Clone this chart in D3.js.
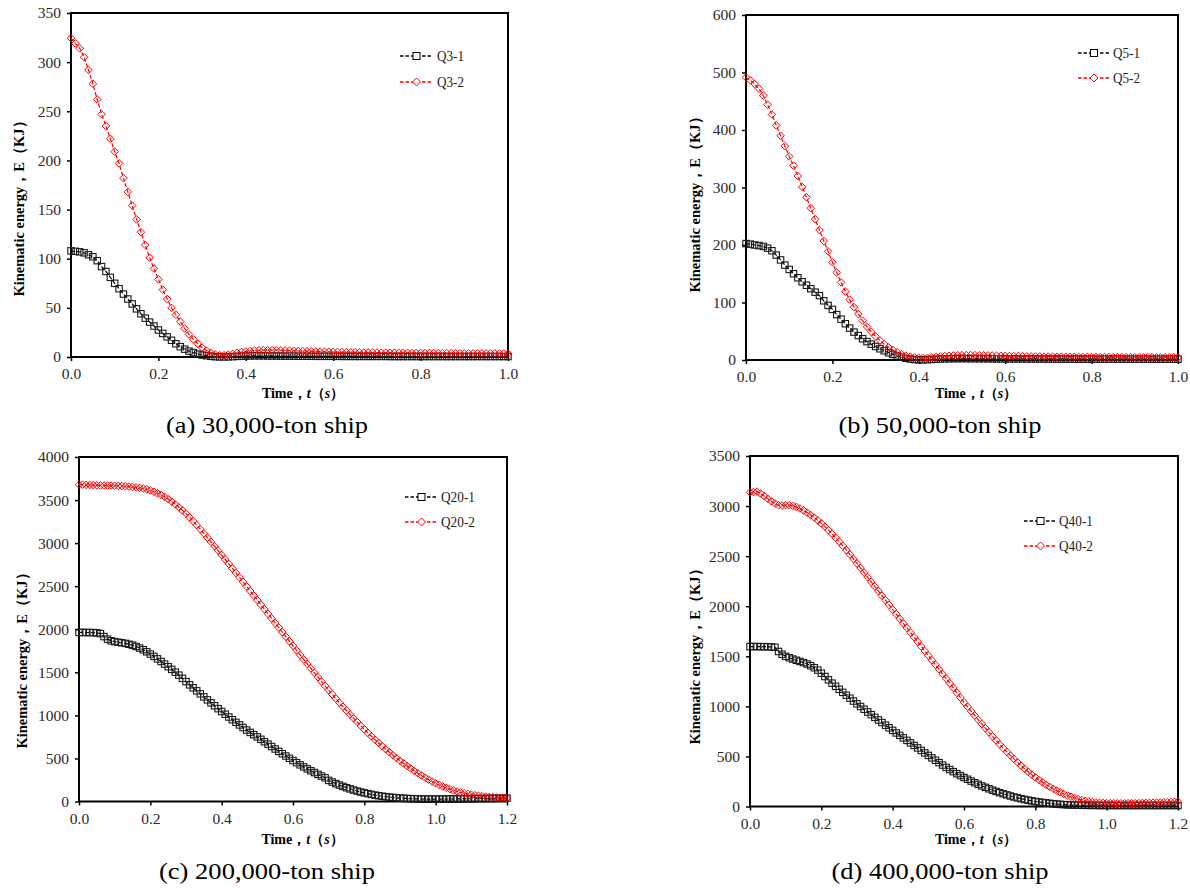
<!DOCTYPE html>
<html><head><meta charset="utf-8">
<script src="https://cdn.jsdelivr.net/npm/d3@7"></script>
<style>body{margin:0;background:#fff}svg{display:block}</style>
</head><body>
<svg id="chart" width="1190" height="888"></svg>
<script>
// ---------- DATA ----------
const timeGrid = [
0,0.01,0.02,0.03,0.04,0.05,0.06,0.07,0.08,0.09,
0.1,0.11,0.12,0.13,0.14,0.15,0.16,0.17,0.18,0.19,
0.2,0.21,0.22,0.23,0.24,0.25,0.26,0.27,0.28,0.29,
0.3,0.31,0.32,0.33,0.34,0.35,0.36,0.37,0.38,0.39,
0.4,0.41,0.42,0.43,0.44,0.45,0.46,0.47,0.48,0.49,
0.5,0.51,0.52,0.53,0.54,0.55,0.56,0.57,0.58,0.59,
0.6,0.61,0.62,0.63,0.64,0.65,0.66,0.67,0.68,0.69,
0.7,0.71,0.72,0.73,0.74,0.75,0.76,0.77,0.78,0.79,
0.8,0.81,0.82,0.83,0.84,0.85,0.86,0.87,0.88,0.89,
0.9,0.91,0.92,0.93,0.94,0.95,0.96,0.97,0.98,0.99,
1.0,1.01,1.02,1.03,1.04,1.05,1.06,1.07,1.08,1.09,
1.1,1.11,1.12,1.13,1.14,1.15,1.16,1.17,1.18,1.19,
1.2];

// (a) 30,000-ton ship
const q3_1 = [
108,107.5,107,106,104,102,98,92,87,81,
75,69.5,64,59,54,49,44,39.5,35.5,31.5,
27.5,24,20.5,17,13.5,10.5,8,6,4.5,3,
2,1.3,0.7,0.3,0.1,0.1,0.2,0.4,0.6,0.8,
1.0,1.1,1.2,1.2,1.2,1.1,1.1,1.0,1.0,0.9,
0.9,0.9,0.8,0.8,0.8,0.8,0.7,0.7,0.7,0.7,
0.7,0.7,0.6,0.6,0.6,0.6,0.6,0.6,0.6,0.6,
0.6,0.6,0.6,0.5,0.5,0.5,0.5,0.5,0.5,0.5,
0.5,0.5,0.5,0.5,0.5,0.5,0.5,0.5,0.5,0.5,
0.5,0.5,0.5,0.5,0.5,0.5,0.5,0.5,0.5,0.5,
0.5];
const q3_2 = [
324.5,319,314,305,292,278,262,247,235,222,
209,197,182,168,154,140,127,114,101,90,
79,68.5,59,50,43,36,29,23,18,13.5,
9.5,6.5,4.2,2.6,1.8,1.8,2.4,3.2,4.2,5.0,
5.6,6.1,6.5,6.8,7.0,7.0,7.0,6.9,6.8,6.6,
6.5,6.3,6.2,6.0,5.9,5.8,5.6,5.5,5.4,5.3,
5.2,5.1,5.0,4.9,4.8,4.8,4.7,4.6,4.6,4.5,
4.5,4.4,4.4,4.3,4.3,4.2,4.2,4.2,4.1,4.1,
4.1,4.0,4.0,3.9,3.9,3.9,3.9,3.8,3.8,3.8,
3.8,3.7,3.7,3.7,3.7,3.6,3.6,3.6,3.6,3.5,
3.5];

// (b) 50,000-ton ship
const q5_1 = [
202.5,201.5,200,199,197.5,194.5,190,182.5,174,165,
157.5,150,143,136,130,124,118,112,103,95,
88,79,71,63,55.5,48.5,42.5,37,32,27.5,
23.5,19.5,16,12.7,9.8,7,4.8,3,1.7,0.8,
0.3,0.3,0.6,1.0,1.4,1.7,2.0,2.2,2.3,2.4,
2.4,2.4,2.3,2.3,2.2,2.2,2.1,2.1,2.0,2.0,
2.0,1.9,1.9,1.9,1.8,1.8,1.8,1.8,1.7,1.7,
1.7,1.7,1.7,1.6,1.6,1.6,1.6,1.6,1.6,1.6,
1.5,1.5,1.5,1.5,1.5,1.5,1.5,1.5,1.5,1.5,
1.5,1.5,1.5,1.5,1.5,1.5,1.5,1.5,1.5,1.5,
1.5];
const q5_2 = [
491.5,486.5,480,472,460,444,427,408,390,372,
354,338,320,301,283,264,245,226,207,189,
170,152,135,119,105,92,80,68.5,58,49,
41,34,27.5,22,17.5,13.5,10.3,7.8,5.8,4.4,
3.6,3.4,3.8,4.5,5.3,6.1,6.8,7.4,7.9,8.2,
8.4,8.5,8.5,8.4,8.3,8.2,8.0,7.8,7.6,7.4,
7.2,7.0,6.8,6.7,6.5,6.4,6.2,6.1,6.0,5.9,
5.8,5.7,5.6,5.6,5.5,5.5,5.4,5.4,5.3,5.3,
5.2,5.2,5.2,5.1,5.1,5.1,5.0,5.0,5.0,5.0,
4.9,4.9,4.9,4.9,4.8,4.8,4.8,4.8,4.8,4.7,
4.7];

// (c) 200,000-ton ship
const q20_1 = [
1963,1963,1962,1962,1961,1958,1950,1915,1885,1866,
1856,1849,1843,1836,1826,1815,1800,1782,1762,1738,
1712,1685,1656,1626,1596,1565,1534,1502,1467,1430,
1392,1355,1320,1285,1250,1215,1180,1146,1112,1078,
1045,1013,981,950,919,889,859,830,802,776,
750,722,694,666,638,610,582,555,528,502,
476,451,426,402,379,357,336,315,295,275,
245,226,208,191,175,160,146,133,121,110,
100,91,82,74,67,61,56,51,47,43,
40,37,35,33,31,30,29,28,28,28,
28,28,28,29,29,30,30,31,31,32,
32,33,34,34,35,36,36,37,38,39,
39];
const q20_2 = [
3680,3679,3677,3675,3673,3671,3670,3669,3668,3667,
3666,3665,3663,3660,3657,3653,3648,3642,3634,3624,
3612,3597,3580,3560,3537,3511,3482,3450,3416,3380,
3343,3300,3255,3209,3162,3114,3065,3015,2964,2913,
2862,2810,2758,2706,2654,2602,2550,2497,2444,2391,
2338,2285,2232,2179,2126,2073,2020,1967,1914,1861,
1808,1755,1702,1650,1598,1546,1494,1443,1392,1342,
1292,1243,1195,1148,1101,1055,1010,966,923,880,
838,797,757,718,680,643,607,572,538,505,
473,442,412,383,355,328,302,277,254,232,
211,192,174,158,143,129,117,106,96,88,
80,73,67,62,57,53,50,47,44,42,
40];

// (d) 400,000-ton ship
const q40_1 = [
1597,1597,1597,1596,1596,1595,1594,1590,1548,1520,
1500,1485,1472,1460,1449,1437,1423,1406,1386,1362,
1331,1298,1265,1232,1200,1170,1140,1111,1082,1053,
1025,998,971,944,917,890,864,838,812,786,
760,735,710,685,660,635,610,585,560,535,
510,486,462,438,414,390,369,348,328,309,
290,272,254,237,221,205,191,177,163,150,
138,127,116,105,95,86,78,70,63,56,
50,45,40,36,32,27,24,21,19,17,
15,14,13,12,12,11,11,11,10,10,
10,10,10,10,10,10,10,10,10,10,
10,10,10,10,10,10,10,10,10,10,
10];
const q40_2 = [
3137,3140,3144,3124,3098,3072,3048,3026,3008,3006,
3010,3008,3002,2992,2976,2957,2935,2911,2885,2857,
2827,2795,2760,2723,2685,2645,2603,2560,2516,2472,
2427,2381,2335,2289,2243,2197,2151,2105,2059,2013,
1967,1921,1875,1829,1783,1737,1691,1645,1599,1553,
1507,1461,1415,1369,1323,1277,1231,1185,1135,1087,
1040,996,952,909,866,824,782,741,700,660,
621,583,546,510,475,441,408,377,347,318,
291,265,241,218,197,177,158,141,125,110,
97,85,74,65,57,50,45,41,38,36,
34,33,32,32,32,32,32,33,33,34,
35,36,37,38,39,40,42,43,45,47,
49];

// tick values
const yTicksA = [0,50,100,150,200,250,300,350];
const yTicksB = [0,100,200,300,400,500,600];
const yTicksC = [0,500,1000,1500,2000,2500,3000,3500,4000];
const yTicksD = [0,500,1000,1500,2000,2500,3000,3500];
const xTicksAB = [0,0.2,0.4,0.6,0.8,1.0];
const xTicksCD = [0,0.2,0.4,0.6,0.8,1.0,1.2];

const seriesNames = {a:["Q3-1","Q3-2"], b:["Q5-1","Q5-2"], c:["Q20-1","Q20-2"], d:["Q40-1","Q40-2"]};
const captions = {a:"(a) 30,000-ton ship", b:"(b) 50,000-ton ship", c:"(c) 200,000-ton ship", d:"(d) 400,000-ton ship"};

// ---------- LAYOUT ----------
const panels = [
  {key:"a", s1:q3_1, s2:q3_2, xMax:1.0, yMax:350, yT:yTicksA, xT:xTicksAB,
   L:71, R:508, T:13, B:357, yTitle:[18.5,205], xTitle:[303,398], legend:[400,433,437,56,82], cap:[267,433,202]},
  {key:"b", s1:q5_1, s2:q5_2, xMax:1.0, yMax:600, yT:yTicksB, xT:xTicksAB,
   L:746, R:1178, T:15, B:360, yTitle:[695,201], xTitle:[976,398], legend:[1078,1110,1113,53,78], cap:[940,433,203]},
  {key:"c", s1:q20_1, s2:q20_2, xMax:1.2, yMax:4000, yT:yTicksC, xT:xTicksCD,
   L:79, R:507, T:457, B:801.5, yTitle:[21.5,657], xTitle:[302.5,844], legend:[405,438,441,497,522], cap:[267,879,216]},
  {key:"d", s1:q40_1, s2:q40_2, xMax:1.2, yMax:3500, yT:yTicksD, xT:xTicksCD,
   L:750, R:1178, T:456, B:806.5, yTitle:[695,653], xTitle:[976,844], legend:[1024,1057,1059,521,546], cap:[940,879,217]}
];

const FONT = "'Liberation Serif','Times New Roman',Times,serif";
const svg = d3.select("#chart");
const diamond = r => `M0,${-r}L${r},0L0,${r}L${-r},0Z`;

panels.forEach(p => {
  const x = d3.scaleLinear().domain([0, p.xMax]).range([p.L, p.R]);
  const y = d3.scaleLinear().domain([0, p.yMax]).range([p.B, p.T]);
  const g = svg.append("g");

  // axes
  const ya = g.append("g").attr("transform", `translate(${p.L},0)`)
    .call(d3.axisLeft(y).tickValues(p.yT).tickSize(4).tickPadding(6).tickFormat(d3.format("d")));
  const xa = g.append("g").attr("transform", `translate(0,${p.B})`)
    .call(d3.axisBottom(x).tickValues(p.xT).tickSize(4).tickPadding(7).tickFormat(d3.format(".1f")));
  [ya, xa].forEach(a => {
    a.select(".domain").remove();
    a.selectAll(".tick line").attr("stroke", "#000").attr("stroke-width", 1.5);
    a.selectAll(".tick text").attr("font-family", FONT).attr("font-size", 15.5).attr("fill", "#2a2a2a");
  });

  // frame
  g.append("rect").attr("x", p.L).attr("y", p.T).attr("width", p.R - p.L).attr("height", p.B - p.T)
    .attr("fill", "none").attr("stroke", "#000").attr("stroke-width", 2);

  const line = d3.line().x((d, i) => x(timeGrid[i])).y(d => y(d));

  // series 1 (black squares)
  g.append("path").datum(p.s1).attr("d", line).attr("fill", "none")
    .attr("stroke", "#000").attr("stroke-width", 1.2).attr("stroke-dasharray", "4,2");
  g.append("g").selectAll("rect").data(p.s1).join("rect")
    .attr("x", (d, i) => x(timeGrid[i]) - 3.2).attr("y", d => y(d) - 3.2)
    .attr("width", 6.4).attr("height", 6.4)
    .attr("fill", "none").attr("stroke", "#1a1a1a").attr("stroke-width", 1.1);

  // series 2 (red diamonds)
  g.append("path").datum(p.s2).attr("d", line).attr("fill", "none")
    .attr("stroke", "#ff0000").attr("stroke-width", 1.2).attr("stroke-dasharray", "4,2");
  g.append("g").selectAll("path").data(p.s2).join("path")
    .attr("transform", (d, i) => `translate(${x(timeGrid[i])},${y(d)})`)
    .attr("d", diamond(3.8))
    .attr("fill", "none").attr("stroke", "#ff0000").attr("stroke-width", 1);

  // legend
  const [lx0, lx1, tx, r1, r2] = p.legend;
  const lm = (lx0 + lx1) / 2;
  [[r1, "#000", "sq", seriesNames[p.key][0]], [r2, "#ff0000", "di", seriesNames[p.key][1]]].forEach(([ry, col, m, name]) => {
    g.append("line").attr("x1", lx0).attr("x2", lx1).attr("y1", ry).attr("y2", ry)
      .attr("stroke", col).attr("stroke-width", 1.5).attr("stroke-dasharray", "3.5,2");
    if (m === "sq") {
      g.append("rect").attr("x", lm - 3.5).attr("y", ry - 3.5).attr("width", 7).attr("height", 7)
        .attr("fill", "#fff").attr("stroke", "#000").attr("stroke-width", 1);
    } else {
      g.append("path").attr("transform", `translate(${lm},${ry})`).attr("d", diamond(4))
        .attr("fill", "#fff").attr("stroke", "#ff0000").attr("stroke-width", 1);
    }
    g.append("text").attr("x", tx).attr("y", ry).attr("dy", "0.35em")
      .attr("font-family", FONT).attr("font-size", 14).attr("fill", "#222")
      .attr("textLength", name.length > 4 ? 34 : 27).attr("lengthAdjust", "spacingAndGlyphs")
      .text(name);
  });

  // y title
  const yt = g.append("text")
    .attr("transform", `translate(${p.yTitle[0]},${p.yTitle[1]}) rotate(-90)`)
    .attr("text-anchor", "middle").attr("dominant-baseline", "central")
    .attr("font-family", FONT).attr("font-size", 14.5).attr("font-weight", "bold").attr("fill", "#000");
  yt.text("Kinematic energy，E（KJ）");

  // x title
  const xt = g.append("text").attr("x", p.xTitle[0]).attr("y", p.xTitle[1])
    .attr("text-anchor", "middle").attr("font-family", FONT).attr("font-size", 14)
    .attr("font-weight", "bold").attr("fill", "#000");
  xt.append("tspan").text("Time，");
  xt.append("tspan").attr("font-style", "italic").text("t");
  xt.append("tspan").text("（");
  xt.append("tspan").attr("font-style", "italic").text("s");
  xt.append("tspan").text("）");

  // caption
  svg.append("text").attr("x", p.cap[0]).attr("y", p.cap[1]).attr("text-anchor", "middle")
    .attr("font-family", FONT).attr("font-size", 23).attr("fill", "#000")
    .attr("textLength", p.cap[2]).attr("lengthAdjust", "spacingAndGlyphs")
    .text(captions[p.key]);
});
</script>
</body></html>
